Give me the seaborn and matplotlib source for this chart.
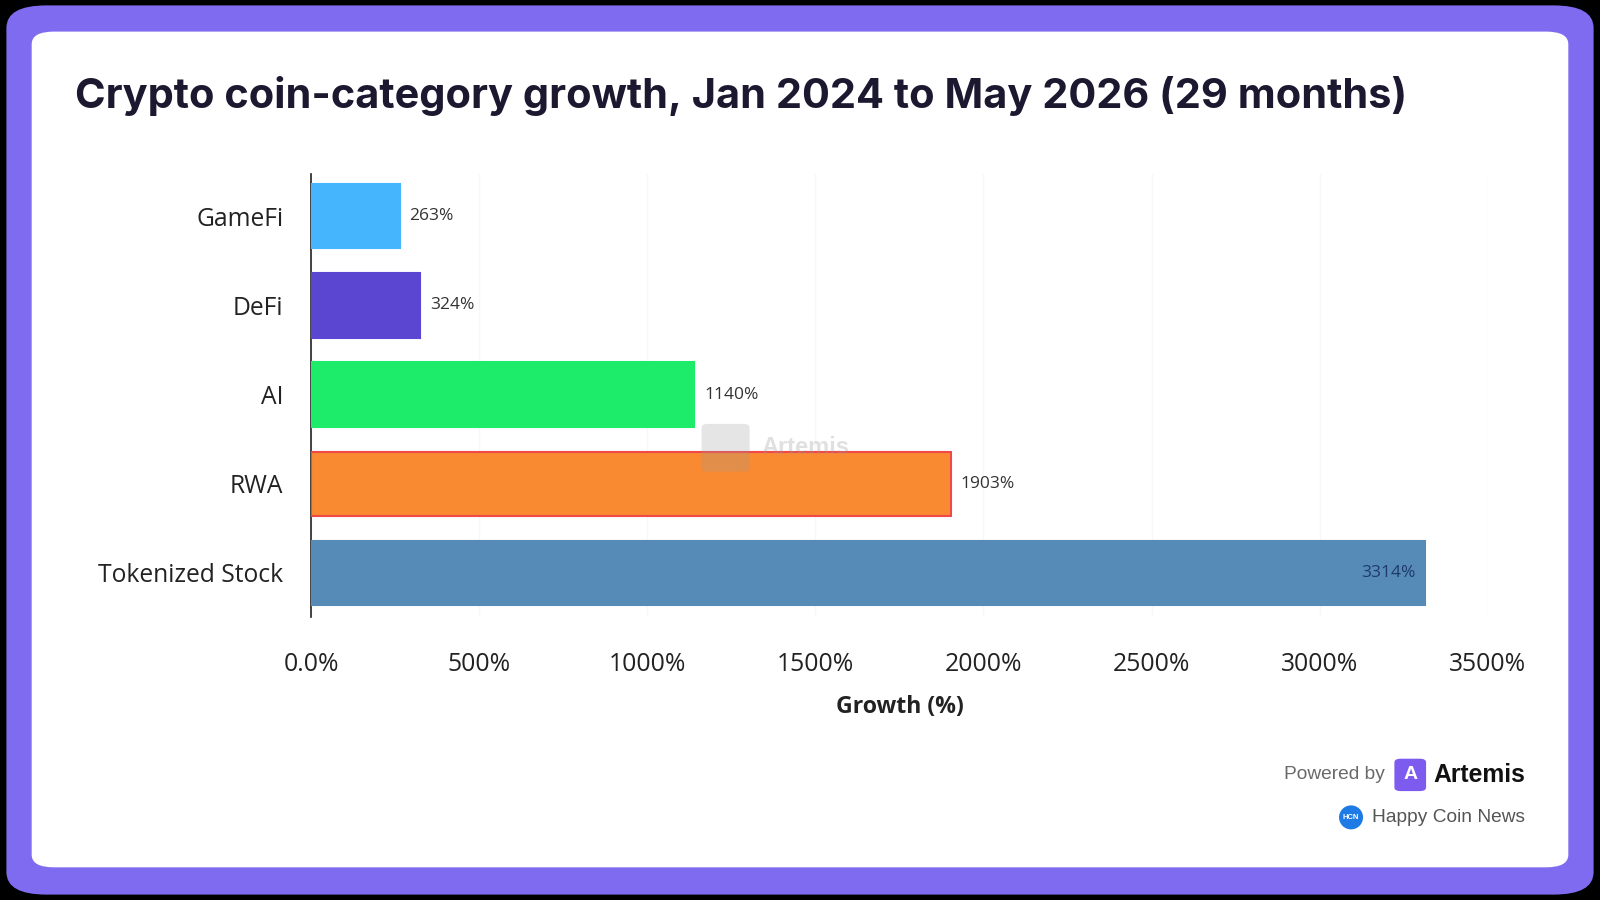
import matplotlib
matplotlib.use("Agg")
import matplotlib.pyplot as plt
from matplotlib.patches import FancyBboxPatch, Ellipse
import seaborn as sns

# data
categories = ["GameFi", "DeFi", "AI", "RWA", "Tokenized Stock"]
growth = [263, 324, 1140, 1903, 3314]
value_labels = ["263%", "324%", "1140%", "1903%", "3314%"]
bar_colors = ["#45B6FE", "#5B46D2", "#1DEB6A", "#F98A31", "#568BB8"]
edge_colors = ["#45B6FE", "#5B46D2", "#1DEB6A", "#F04848", "#568BB8"]
xticks = [0, 500, 1000, 1500, 2000, 2500, 3000, 3500]
xtick_labels = ["0.0%", "500%", "1000%", "1500%", "2000%", "2500%", "3000%", "3500%"]

sns.set_theme(style="white")
plt.rcParams["font.family"] = ["Open Sans", "DejaVu Sans"]

fig = plt.figure(figsize=(16, 9), dpi=100, facecolor="black")

# purple frame + white card
fig.patches.append(FancyBboxPatch((0.004, 0.006), 0.992, 0.988,
                                  boxstyle="round,pad=0,rounding_size=0.025",
                                  transform=fig.transFigure, facecolor="#7F6BEF",
                                  edgecolor="none", zorder=0))
fig.patches.append(FancyBboxPatch((0.0198, 0.0363), 0.9604, 0.9286,
                                  boxstyle="round,pad=0,rounding_size=0.014",
                                  transform=fig.transFigure, facecolor="white",
                                  edgecolor="none", zorder=1))

fig.text(0.0466, 0.8798, "Crypto coin-category growth, Jan 2024 to May 2026 (29 months)",
         fontsize=29.9, fontweight="bold", color="#1B1830", family=["Inter", "DejaVu Sans"],
         ha="left", va="baseline", zorder=5)

ax = fig.add_axes([0.1945, 0.314, 0.7353, 0.4932])
ax.set_zorder(3)
ax.set_facecolor("none")
sns.barplot(x=growth, y=categories, hue=categories, palette=bar_colors,
            legend=False, width=0.72, orient="h", saturation=1, ax=ax, zorder=3)

for patch, ec in zip(ax.patches, edge_colors):
    patch.set_edgecolor(ec)
    patch.set_linewidth(1.5)

ax.set_xlim(0, 3500)
ax.set_ylim(4.5, -0.48)
ax.set_xticks(xticks)
ax.set_xticklabels(xtick_labels)
ax.xaxis.grid(True, color="#F7F7F7", linewidth=1, zorder=0)
ax.set_axisbelow(True)
for side in ["top", "right", "bottom"]:
    ax.spines[side].set_visible(False)
ax.spines["left"].set_color("#222222")
ax.spines["left"].set_linewidth(1.2)
ax.tick_params(axis="y", length=0, pad=20, labelsize=17.7, labelcolor="#222222")
ax.tick_params(axis="x", length=0, pad=25, labelsize=17.8, labelcolor="#222222")
ax.set_ylabel("")
ax.set_xlabel("Growth (%)", fontsize=16.7, fontweight="bold", color="#222222", labelpad=13)

# value labels
for i, (v, lab) in enumerate(zip(growth, value_labels)):
    if i == len(growth) - 1:
        ax.text(v - 10 * 3500 / 1180, i, lab, ha="right", va="center",
                fontsize=12.5, color="#1F3A6A", zorder=5)
    else:
        ax.text(v + 10 * 3500 / 1180, i, lab, ha="left", va="center",
                fontsize=12.5, color="#333333", zorder=5)

# faint watermark (over the bars)
fig.patches.append(FancyBboxPatch((0.4385, 0.476), 0.030, 0.053,
                                  boxstyle="round,pad=0,rounding_size=0.004",
                                  transform=fig.transFigure, facecolor="#9A9A9A",
                                  edgecolor="none", alpha=0.25, zorder=10))
fig.text(0.476, 0.503, "Artemis", fontsize=17, fontweight="bold", color="#9A9A9A",
         alpha=0.3, ha="left", va="center", family=["Liberation Sans", "DejaVu Sans"],
         zorder=10)

# footer
fig.text(0.8655, 0.139, "Powered by", fontsize=13.8, color="#6A6A6A",
         family=["Liberation Sans", "DejaVu Sans"], ha="right", va="center", zorder=5)
fig.patches.append(FancyBboxPatch((0.8715, 0.121), 0.0198, 0.036,
                                  boxstyle="round,pad=0,rounding_size=0.004",
                                  transform=fig.transFigure, facecolor="#7E5BEF",
                                  edgecolor="none", zorder=5))
fig.text(0.8814, 0.139, "A", fontsize=14, fontweight="bold", color="white",
         family=["Liberation Sans", "DejaVu Sans"], ha="center", va="center", zorder=6)
fig.text(0.9530, 0.139, "Artemis", fontsize=17.8, fontweight="bold", color="#111111",
         family=["Liberation Sans", "DejaVu Sans"], ha="right", va="center", zorder=5)
fig.patches.append(Ellipse((0.8444, 0.0918), 0.015, 0.0267, transform=fig.transFigure,
                           facecolor="#1E7BE6", edgecolor="none", zorder=5))
fig.text(0.8444, 0.0918, "HCN", fontsize=5.5, fontweight="bold", color="white",
         family=["Liberation Sans", "DejaVu Sans"], ha="center", va="center", zorder=6)
fig.text(0.9530, 0.0918, "Happy Coin News", fontsize=13.8, color="#555555",
         family=["Liberation Sans", "DejaVu Sans"], ha="right", va="center", zorder=5)

fig.savefig("out.png", dpi=100, facecolor=fig.get_facecolor())
